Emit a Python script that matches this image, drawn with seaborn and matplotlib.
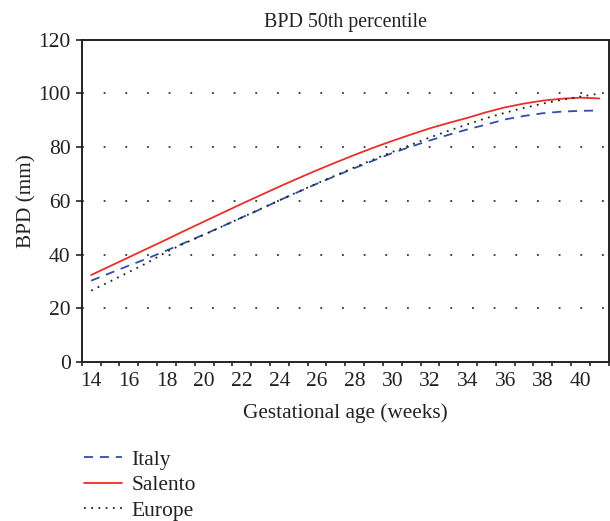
import numpy as np
import pandas as pd
import matplotlib
matplotlib.use("Agg")
import matplotlib.pyplot as plt
import seaborn as sns
from matplotlib.ticker import FixedLocator

weeks = list(range(14, 42))
italy = [30.3, 33.1, 35.9, 38.6, 41.5, 44.5, 47.5, 50.6, 53.8, 56.9, 60.2, 63.3,
         66.4, 69.3, 72.2, 75.0, 77.8, 80.2, 82.5, 84.6, 86.6, 88.4, 90.3, 91.6,
         92.6, 93.2, 93.5, 93.6]
salento = [32.4, 35.7, 39.0, 42.3, 45.6, 49.0, 52.3, 55.6, 58.9, 62.1, 65.3, 68.4,
           71.4, 74.3, 77.1, 79.8, 82.3, 84.7, 87.0, 89.0, 90.9, 93.0, 94.8, 96.2,
           97.3, 98.0, 98.4, 98.1]
europe = [26.6, 30.0, 33.5, 37.0, 41.0, 44.3, 47.4, 50.6, 53.8, 57.0, 60.2, 63.4,
          66.5, 69.5, 72.5, 75.4, 78.2, 80.9, 83.6, 86.1, 88.5, 90.8, 92.8, 94.6,
          96.2, 97.6, 98.8, 99.9]
series_names = ["Italy", "Salento", "Europe"]
xtick_labels = list(range(14, 41, 2))
ytick_values = [0, 20, 40, 60, 80, 100, 120]

df = pd.DataFrame({
    "week": weeks * 3,
    "BPD": italy + salento + europe,
    "Source": sum([[n] * len(weeks) for n in series_names], []),
})

sns.set_theme(style="white")
plt.rcParams["font.family"] = ["Liberation Serif", "DejaVu Serif"]

fig = plt.figure(figsize=(6.10, 5.21), dpi=100)
ax = fig.add_axes([0.134, 0.305, 0.864, 0.619])

palette = {"Italy": "#2f4fa6", "Salento": "#e8302a", "Europe": "#222222"}
dashes = {"Italy": (5, 3.8), "Salento": "", "Europe": (1, 3)}
sns.lineplot(data=df, x="week", y="BPD", hue="Source", style="Source",
             palette=palette, dashes=dashes, hue_order=series_names,
             style_order=series_names, linewidth=1.3, ax=ax)

ax.set_xlim(13.5, 41.5)
ax.set_ylim(0, 120)
ax.set_xticks(xtick_labels)
ax.set_xticklabels([str(v) for v in xtick_labels])
ax.xaxis.set_minor_locator(FixedLocator(np.arange(13.5, 42, 1.0)))
ax.tick_params(axis="x", which="major", length=0, labelsize=15.5, pad=7, colors="#222222")
ax.tick_params(axis="x", which="minor", length=3, width=1.2, color="#222222", bottom=True)
ax.set_yticks(ytick_values)
ax.tick_params(axis="y", which="major", length=4, width=1.2, labelsize=15.5,
               colors="#222222", left=True, pad=4)

for y in [20, 40, 60, 80, 100]:
    ax.axhline(y, color="#333333", linestyle=(0, (1, 11)), linewidth=1.3, zorder=0)

for s in ax.spines.values():
    s.set_color("#222222")
    s.set_linewidth(1.4)

ax.set_xlabel("Gestational age (weeks)", fontsize=15.3, labelpad=9, color="#222222")
ax.set_ylabel("BPD (mm)", fontsize=15.3, labelpad=1, color="#222222")
ax.set_title("BPD 50th percentile", fontsize=14.4, pad=9, color="#222222")

handles, labels = ax.get_legend_handles_labels()
ax.get_legend().remove()
leg = fig.legend(handles, labels, loc="upper left", bbox_to_anchor=(0.131, 0.145),
                 frameon=False, fontsize=15.5, handlelength=1.75, handletextpad=0.45,
                 labelspacing=0.25, borderaxespad=0.0, borderpad=0.2)
for t in leg.get_texts():
    t.set_color("#222222")

fig.savefig("out.png", dpi=100, facecolor="white")
